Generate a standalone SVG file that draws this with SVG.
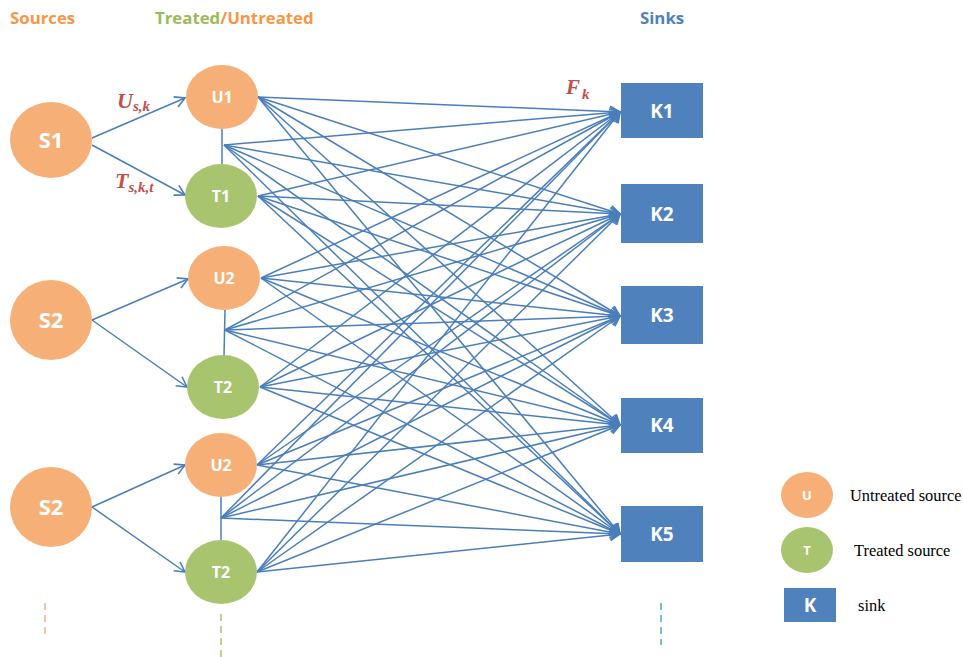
<svg xmlns="http://www.w3.org/2000/svg" width="963" height="657" viewBox="0 0 963 657">
<defs>
<marker id="arr" markerUnits="userSpaceOnUse" markerWidth="14" markerHeight="14" viewBox="0 0 14 14" refX="12" refY="7" orient="auto">
<path d="M2,1.5 L12,7 L2,12.5" fill="none" stroke="#4A7EBB" stroke-width="1.6"/>
</marker>
<style>
.u{fill:#F6B077}
.t{fill:#A9C46F}
.k{fill:#4F81BD}
.lbl{font-family:"Open Sans","Liberation Sans",sans-serif;font-weight:bold;fill:#fff;text-anchor:middle}
.e{stroke:#4A7EBB;stroke-width:1.5;fill:none}
.a{marker-end:url(#arr)}
.m{font-family:"Liberation Serif",serif;font-weight:bold;font-style:italic;fill:#C0504D}
.ttl{font-family:"Open Sans","Liberation Sans",sans-serif;font-weight:bold;font-size:16.8px}
.leg{font-family:"Liberation Serif",serif;font-size:16.4px;fill:#000}
</style>
</defs>
<rect width="963" height="657" fill="#fff"/>
<g id="titles">
<text class="ttl" x="10" y="24" fill="#F79646">Sources</text>
<text class="ttl" x="155" y="24"><tspan fill="#9BBB59">Treated</tspan><tspan fill="#F79646">/Untreated</tspan></text>
<text class="ttl" x="640" y="24" fill="#4F81BD">Sinks</text>
</g>
<g id="connectors">
<line class="e" x1="222" y1="128" x2="222" y2="164"/>
<line class="e" x1="225" y1="310" x2="224" y2="356"/>
<line class="e" x1="221" y1="496" x2="221" y2="540"/>
<line class="e a" x1="92" y1="138" x2="185" y2="98"/>
<line class="e a" x1="92" y1="145" x2="185" y2="195"/>
<line class="e a" x1="92" y1="320" x2="188" y2="279"/>
<line class="e a" x1="92" y1="320" x2="187" y2="387"/>
<line class="e a" x1="92" y1="507" x2="185" y2="465"/>
<line class="e a" x1="92" y1="507" x2="185" y2="572"/>
<g class="e a">
<line x1="258" y1="97" x2="620" y2="112"/><line x1="258" y1="97" x2="620" y2="214"/><line x1="258" y1="97" x2="620" y2="316"/><line x1="258" y1="97" x2="620" y2="425"/><line x1="258" y1="97" x2="620" y2="534"/>
<line x1="224" y1="145" x2="620" y2="112"/><line x1="224" y1="145" x2="620" y2="214"/><line x1="224" y1="145" x2="620" y2="316"/><line x1="224" y1="145" x2="620" y2="425"/><line x1="224" y1="145" x2="620" y2="534"/>
<line x1="258" y1="196" x2="620" y2="112"/><line x1="258" y1="196" x2="620" y2="214"/><line x1="258" y1="196" x2="620" y2="316"/><line x1="258" y1="196" x2="620" y2="425"/><line x1="258" y1="196" x2="620" y2="534"/>
<line x1="261" y1="278" x2="620" y2="112"/><line x1="261" y1="278" x2="620" y2="214"/><line x1="261" y1="278" x2="620" y2="316"/><line x1="261" y1="278" x2="620" y2="425"/><line x1="261" y1="278" x2="620" y2="534"/>
<line x1="225" y1="330" x2="620" y2="112"/><line x1="225" y1="330" x2="620" y2="214"/><line x1="225" y1="330" x2="620" y2="316"/><line x1="225" y1="330" x2="620" y2="425"/><line x1="225" y1="330" x2="620" y2="534"/>
<line x1="260" y1="387" x2="620" y2="112"/><line x1="260" y1="387" x2="620" y2="214"/><line x1="260" y1="387" x2="620" y2="316"/><line x1="260" y1="387" x2="620" y2="425"/><line x1="260" y1="387" x2="620" y2="534"/>
<line x1="257" y1="465" x2="620" y2="112"/><line x1="257" y1="465" x2="620" y2="214"/><line x1="257" y1="465" x2="620" y2="316"/><line x1="257" y1="465" x2="620" y2="425"/><line x1="257" y1="465" x2="620" y2="534"/>
<line x1="221" y1="518" x2="620" y2="112"/><line x1="221" y1="518" x2="620" y2="214"/><line x1="221" y1="518" x2="620" y2="316"/><line x1="221" y1="518" x2="620" y2="425"/><line x1="221" y1="518" x2="620" y2="534"/>
<line x1="257" y1="572" x2="620" y2="112"/><line x1="257" y1="572" x2="620" y2="214"/><line x1="257" y1="572" x2="620" y2="316"/><line x1="257" y1="572" x2="620" y2="425"/><line x1="257" y1="572" x2="620" y2="534"/>
</g>
</g>
<g id="edge-labels">
<text class="m" x="117" y="108" font-size="22">U<tspan font-size="15" dy="3">s,k</tspan></text>
<text class="m" x="115" y="188" font-size="22">T<tspan font-size="15" dy="4">s,k,t</tspan></text>
<text class="m" x="566" y="94" font-size="21">F<tspan font-size="15" dy="5" dx="2">k</tspan></text>
</g>
<g id="S1"><ellipse class="u" cx="51" cy="140" rx="41" ry="38"/><text class="lbl" x="51" y="148" font-size="22">S1</text></g>
<g id="S2a"><ellipse class="u" cx="51" cy="320" rx="41" ry="40"/><text class="lbl" x="51" y="328" font-size="22">S2</text></g>
<g id="S2b"><ellipse class="u" cx="51" cy="507" rx="41" ry="40"/><text class="lbl" x="51" y="515" font-size="22">S2</text></g>
<g id="U1"><ellipse class="u" cx="222" cy="97" rx="36" ry="32"/><text class="lbl" x="222" y="103" font-size="16">U1</text></g>
<g id="T1"><ellipse class="t" cx="221" cy="196" rx="36" ry="32"/><text class="lbl" x="221" y="202" font-size="16">T1</text></g>
<g id="U2a"><ellipse class="u" cx="224" cy="278" rx="36" ry="32"/><text class="lbl" x="224" y="284" font-size="16">U2</text></g>
<g id="T2a"><ellipse class="t" cx="223" cy="387" rx="36" ry="32"/><text class="lbl" x="223" y="393" font-size="16">T2</text></g>
<g id="U2b"><ellipse class="u" cx="221" cy="465" rx="36" ry="32"/><text class="lbl" x="221" y="471" font-size="16">U2</text></g>
<g id="T2b"><ellipse class="t" cx="221" cy="572" rx="36" ry="32"/><text class="lbl" x="221" y="578" font-size="16">T2</text></g>
<g id="K1"><rect class="k" x="621" y="83" width="82" height="55"/><text class="lbl" x="662" y="118" font-size="19">K1</text></g>
<g id="K2"><rect class="k" x="621" y="184" width="82" height="59"/><text class="lbl" x="662" y="221" font-size="19">K2</text></g>
<g id="K3"><rect class="k" x="621" y="286" width="82" height="58"/><text class="lbl" x="662" y="322" font-size="19">K3</text></g>
<g id="K4"><rect class="k" x="621" y="398" width="82" height="55"/><text class="lbl" x="662" y="432" font-size="19">K4</text></g>
<g id="K5"><rect class="k" x="621" y="506" width="82" height="56"/><text class="lbl" x="662" y="541" font-size="19">K5</text></g>
<g id="dashes">
<line x1="45" y1="603" x2="45" y2="637" stroke="#F6B077" stroke-width="1.5" stroke-dasharray="7,5"/>
<line x1="221" y1="614" x2="221" y2="657" stroke="#A9C46F" stroke-width="1.5" stroke-dasharray="7,5"/>
<line x1="661" y1="603" x2="661" y2="645" stroke="#4BACC6" stroke-width="1.5" stroke-dasharray="7,5"/>
</g>
<g id="legend">
<ellipse class="u" cx="807" cy="495" rx="26" ry="23"/><text class="lbl" x="807" y="500" font-size="13">U</text>
<text class="leg" x="850" y="501">Untreated source</text>
<ellipse class="t" cx="807" cy="550" rx="26" ry="23"/><text class="lbl" x="807" y="555" font-size="13">T</text>
<text class="leg" x="854" y="556">Treated source</text>
<rect class="k" x="784" y="588" width="52" height="34"/><text class="lbl" x="810" y="612" font-size="19">K</text>
<text class="leg" x="858" y="611">sink</text>
</g>
</svg>
